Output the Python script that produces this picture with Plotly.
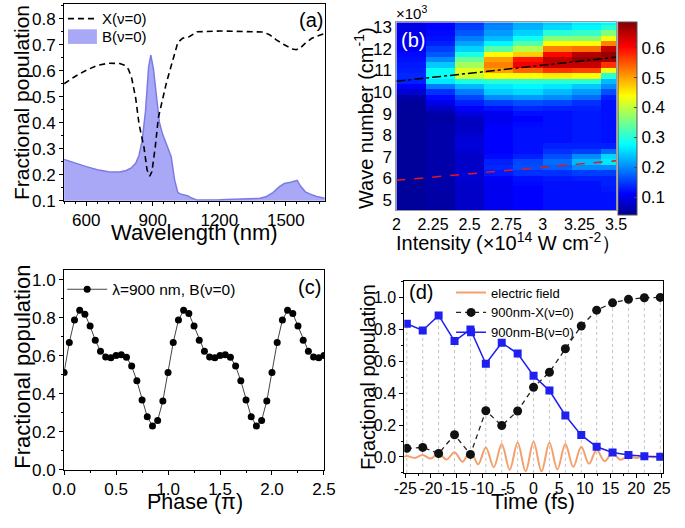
import plotly.graph_objects as go

W, H = 685, 528
FONT = "Arial, 'Liberation Sans', sans-serif"

# ---------------- panel (a) data ----------------
wl_X = [500, 551, 600, 650, 700, 751, 772, 790, 804, 823, 838, 860, 874, 886, 896, 911,
        925, 944, 962, 983, 998, 1013, 1034, 1064, 1100, 1209, 1311, 1399, 1428, 1457,
        1493, 1530, 1547, 1566, 1588, 1617, 1646, 1678]
pop_X = [0.550, 0.579, 0.602, 0.621, 0.629, 0.628, 0.621, 0.606, 0.575, 0.494, 0.394, 0.306,
         0.219, 0.194, 0.212, 0.306, 0.419, 0.494, 0.556, 0.619, 0.669, 0.709, 0.725, 0.731,
         0.750, 0.753, 0.751, 0.749, 0.738, 0.719, 0.700, 0.684, 0.681, 0.688, 0.706, 0.725,
         0.735, 0.744]

wl_B = [500, 551, 600, 650, 700, 751, 780, 801, 823, 838, 852, 867, 874, 881, 891, 903,
        918, 930, 944, 962, 983, 998, 1013, 1027, 1056, 1078, 1100, 1200, 1300, 1384,
        1413, 1442, 1471, 1493, 1522, 1551, 1566, 1588, 1610, 1639, 1678]
pop_B = [0.259, 0.244, 0.231, 0.219, 0.211, 0.210, 0.216, 0.225, 0.244, 0.275, 0.331, 0.444,
         0.544, 0.613, 0.660, 0.606, 0.490, 0.400, 0.356, 0.319, 0.269, 0.181, 0.131, 0.125,
         0.119, 0.109, 0.102, 0.103, 0.106, 0.109, 0.116, 0.131, 0.154, 0.166, 0.171, 0.178,
         0.156, 0.134, 0.125, 0.116, 0.109]

# ---------------- panel (b) data ----------------
intensity = [2.1, 2.3, 2.5, 2.7, 2.9, 3.1, 3.3, 3.5]
wavenumber = [4.5, 4.75, 5.0, 5.25, 5.5, 5.75, 6.0, 6.25, 6.5, 6.75, 7.0, 7.25, 7.5, 7.75,
              8.0, 8.25, 8.5, 8.75, 9.0, 9.25, 9.5, 9.75, 10.0, 10.25, 10.5, 10.75, 11.0,
              11.25, 11.5, 11.75, 12.0, 12.25, 12.5, 12.75, 13.0, 13.25]
col_I21 = [0.045, 0.045, 0.045, 0.045, 0.045, 0.045, 0.045, 0.045, 0.045, 0.045, 0.045, 0.045,
           0.045, 0.045, 0.045, 0.045, 0.045, 0.045, 0.045, 0.045, 0.047, 0.055, 0.08, 0.11,
           0.13, 0.135, 0.13, 0.125, 0.12, 0.115, 0.105, 0.1, 0.095, 0.095, 0.095, 0.09]
col_I23 = [0.05, 0.05, 0.052, 0.052, 0.055, 0.055, 0.055, 0.055, 0.055, 0.055, 0.055, 0.055,
           0.055, 0.055, 0.055, 0.055, 0.055, 0.05, 0.055, 0.075, 0.095, 0.115, 0.14, 0.19,
           0.26, 0.28, 0.28, 0.24, 0.2, 0.165, 0.15, 0.13, 0.12, 0.115, 0.11, 0.11]
col_I25 = [0.075, 0.075, 0.075, 0.075, 0.075, 0.078, 0.08, 0.08, 0.075, 0.075, 0.075, 0.08,
           0.085, 0.085, 0.08, 0.072, 0.07, 0.072, 0.09, 0.11, 0.13, 0.155, 0.19, 0.23,
           0.29, 0.41, 0.42, 0.38, 0.34, 0.29, 0.245, 0.215, 0.19, 0.165, 0.15, 0.145]
col_I27 = [0.1, 0.1, 0.1, 0.1, 0.1, 0.1, 0.105, 0.125, 0.135, 0.13, 0.115, 0.11, 0.11, 0.11,
           0.11, 0.11, 0.105, 0.1, 0.1, 0.12, 0.15, 0.2, 0.24, 0.26, 0.3, 0.44, 0.5, 0.52,
           0.5, 0.44, 0.33, 0.27, 0.23, 0.21, 0.195, 0.19]
col_I29 = [0.11, 0.11, 0.11, 0.11, 0.11, 0.115, 0.12, 0.14, 0.16, 0.155, 0.13, 0.12, 0.12,
           0.12, 0.12, 0.12, 0.115, 0.11, 0.12, 0.135, 0.16, 0.21, 0.25, 0.27, 0.3, 0.44,
           0.54, 0.61, 0.59, 0.47, 0.39, 0.33, 0.28, 0.245, 0.225, 0.22]
col_I31 = [0.12, 0.12, 0.12, 0.12, 0.12, 0.12, 0.125, 0.14, 0.17, 0.18, 0.16, 0.14, 0.13,
           0.12, 0.12, 0.12, 0.12, 0.12, 0.12, 0.13, 0.155, 0.2, 0.23, 0.26, 0.3, 0.45,
           0.57, 0.64, 0.645, 0.6, 0.52, 0.44, 0.36, 0.3, 0.25, 0.24]
col_I33 = [0.12, 0.12, 0.12, 0.12, 0.12, 0.12, 0.13, 0.15, 0.2, 0.23, 0.2, 0.15, 0.13, 0.125,
           0.125, 0.125, 0.125, 0.125, 0.125, 0.13, 0.14, 0.18, 0.21, 0.24, 0.3, 0.44, 0.56,
           0.64, 0.67, 0.65, 0.53, 0.44, 0.36, 0.31, 0.27, 0.26]
col_I35 = [0.12, 0.12, 0.12, 0.12, 0.125, 0.13, 0.13, 0.15, 0.2, 0.26, 0.25, 0.18, 0.13,
           0.12, 0.12, 0.12, 0.12, 0.12, 0.12, 0.12, 0.12, 0.13, 0.16, 0.2, 0.23, 0.3, 0.43,
           0.57, 0.66, 0.67, 0.64, 0.52, 0.43, 0.36, 0.3, 0.27]
fit_intensity = [2.0, 3.5]
fit_upper = [10.5, 11.62]
fit_lower = [5.9, 6.81]
cbar_ticks = [0.1, 0.2, 0.3, 0.4, 0.5, 0.6]
int_ticks = [2, 2.25, 2.5, 2.75, 3, 3.25, 3.5]
int_ticklabels = ["2", "2.25", "2.5", "2.75", "3", "3.25", "3.5"]
wn_ticks = [5, 6, 7, 8, 9, 10, 11, 12, 13]

# ---------------- panel (c) data ----------------
phase = [0.0, 0.05, 0.1, 0.15, 0.2, 0.25, 0.3, 0.35, 0.4, 0.45, 0.5, 0.55, 0.6, 0.65, 0.7,
         0.75, 0.8, 0.85, 0.9, 0.95, 1.0, 1.05, 1.1, 1.15, 1.2, 1.25, 1.3, 1.35, 1.4, 1.45,
         1.5, 1.55, 1.6, 1.65, 1.7, 1.75, 1.8, 1.85, 1.9, 1.95, 2.0, 2.05, 2.1, 2.15, 2.2,
         2.25, 2.3, 2.35, 2.4, 2.45, 2.5]
pop_phase = [0.511, 0.669, 0.787, 0.838, 0.818, 0.755, 0.681, 0.623, 0.593, 0.588, 0.600,
             0.605, 0.591, 0.545, 0.467, 0.366, 0.278, 0.230, 0.259, 0.361,
             0.511, 0.669, 0.787, 0.838, 0.821, 0.755, 0.681, 0.623, 0.593, 0.588, 0.600,
             0.605, 0.591, 0.545, 0.467, 0.366, 0.278, 0.230, 0.259, 0.361,
             0.511, 0.669, 0.787, 0.838, 0.821, 0.755, 0.681, 0.623, 0.593, 0.588, 0.600]

# ---------------- panel (d) data ----------------
time_fs = [-24.7, -21.6, -18.5, -15.4, -12.3, -9.3, -6.2, -3.1, 0.0, 3.1, 6.2, 9.3, 12.3,
           15.4, 18.5, 21.6, 24.7]
pop_X900 = [0.054, 0.060, 0.022, 0.139, 0.016, 0.290, 0.197, 0.288, 0.437, 0.531, 0.678,
            0.821, 0.920, 0.966, 0.988, 0.998, 1.000]
pop_B900 = [0.835, 0.793, 0.887, 0.726, 0.799, 0.584, 0.716, 0.648, 0.509, 0.416, 0.260,
            0.137, 0.064, 0.028, 0.012, 0.004, 0.002]
field_t = [-25.2, -24.7, -23.15, -21.6, -20.05, -18.5, -16.95, -15.4, -13.85, -12.3, -10.8,
           -9.3, -7.75, -6.2, -4.65, -3.1, -1.55, 0.0, 1.55, 3.1, 4.65, 6.2, 7.75, 9.3,
           10.8, 12.3, 13.85, 15.4, 16.95, 18.5, 20.05, 21.6, 23.15, 24.7, 25.3]
field_E = [0.0, 0.006, -0.006, 0.012, -0.01, 0.022, -0.016, 0.03, -0.03, 0.038, -0.046,
           0.06, -0.064, 0.081, -0.08, 0.091, -0.09, 0.095, -0.09, 0.089, -0.078, 0.081,
           -0.062, 0.064, -0.042, 0.044, -0.026, 0.025, -0.018, 0.008, -0.006, 0.004,
           -0.002, 0.0, 0.0]
time_ticks = [-25, -20, -15, -10, -5, 0, 5, 10, 15, 20, 25]
time_ticklabels = ["-25", "-20", "-15", "-10", "-5", "0", "5", "10", "15", "20", "25"]


def px(x):
    return x / W


def py(y):
    return 1 - y / H


fig = go.Figure()

# (a)
B_FILL = "rgba(168,168,246,1)"
B_LINE = "#7b7be6"
fig.add_trace(go.Scatter(x=wl_B, y=pop_B, mode="lines", name="B(ν=0)", fill="tozeroy",
                         fillcolor=B_FILL, line=dict(color=B_LINE, width=1.5),
                         xaxis="x", yaxis="y", showlegend=False))
fig.add_trace(go.Scatter(x=wl_X, y=pop_X, mode="lines", name="X(ν=0)",
                         line=dict(color="black", width=1.6, dash="6px,4px"),
                         xaxis="x", yaxis="y", showlegend=False))

# (b)
z = [[col_I21[i], col_I23[i], col_I25[i], col_I27[i], col_I29[i], col_I31[i], col_I33[i],
      col_I35[i]] for i in range(len(wavenumber))]
jet = [[0.0, "rgb(0,0,143)"], [0.111, "rgb(0,0,255)"], [0.365, "rgb(0,255,255)"],
       [0.619, "rgb(255,255,0)"], [0.873, "rgb(255,0,0)"], [1.0, "rgb(128,0,0)"]]
fig.add_trace(go.Heatmap(x=intensity, y=wavenumber, z=z, colorscale=jet, zmin=0.038,
                         zmax=0.685, xaxis="x2", yaxis="y2", showscale=True,
                         colorbar=dict(x=px(628.5), xanchor="left", thickness=19,
                                       thicknessmode="pixels", len=192.7, lenmode="pixels",
                                       y=py(19), yanchor="top", xpad=0, ypad=0,
                                       tickvals=cbar_ticks, ticks="inside", ticklen=3,
                                       tickfont=dict(size=17, color="black", family=FONT),
                                       outlinewidth=1, outlinecolor="#555")))
fig.add_trace(go.Scatter(x=fit_intensity, y=fit_upper, mode="lines", showlegend=False,
                         line=dict(color="black", width=1.5, dash="dashdot"),
                         xaxis="x2", yaxis="y2"))
fig.add_trace(go.Scatter(x=fit_intensity, y=fit_lower, mode="lines", showlegend=False,
                         line=dict(color="#e8161b", width=1.5, dash="dash"),
                         xaxis="x2", yaxis="y2"))

# (c)
fig.add_trace(go.Scatter(x=phase, y=pop_phase, mode="lines+markers",
                         name="λ=900 nm, B(ν=0)",
                         line=dict(color="#444", width=1),
                         marker=dict(color="black", size=7, symbol="circle"),
                         xaxis="x3", yaxis="y3", legend="legend2"))

# (d)
gx, gy = [], []
for t, a, b in zip(time_fs, pop_X900, pop_B900):
    gx += [t, t, None]
    gy += [-0.1, max(a, b), None]
fig.add_trace(go.Scatter(x=gx, y=gy, mode="lines", showlegend=False,
                         line=dict(color="#c4c4c4", width=1, dash="dot"),
                         xaxis="x4", yaxis="y4"))
fig.add_trace(go.Scatter(x=field_t, y=field_E, mode="lines", name="electric field",
                         line=dict(color="#f4a06c", width=2, shape="spline", smoothing=1.0),
                         xaxis="x4", yaxis="y4", legend="legend3"))
fig.add_trace(go.Scatter(x=time_fs, y=pop_X900, mode="lines+markers", name="900nm-X(ν=0)",
                         line=dict(color="#222", width=1.3, dash="5px,4px"),
                         marker=dict(color="#111", size=9, symbol="circle"),
                         xaxis="x4", yaxis="y4", legend="legend3"))
fig.add_trace(go.Scatter(x=time_fs, y=pop_B900, mode="lines+markers", name="900nm-B(ν=0)",
                         line=dict(color="#1f1ff0", width=1.5),
                         marker=dict(color="#1f1ff0", size=8, symbol="square"),
                         xaxis="x4", yaxis="y4", legend="legend3"))


def axis_style(size=17):
    return dict(showline=True, linecolor="black", linewidth=1, mirror=True,
                ticks="outside", ticklen=4, tickwidth=1, tickcolor="black",
                showgrid=False, zeroline=False, tickangle=0,
                tickfont=dict(size=size, color="black", family=FONT))


fig.update_layout(
    width=W, height=H, margin=dict(l=0, r=0, t=0, b=0),
    paper_bgcolor="white", plot_bgcolor="white",
    font=dict(family=FONT, color="black"),
    xaxis=dict(domain=[px(54), px(324)], range=[500, 1675], anchor="y",
               tickvals=[600, 900, 1200, 1500],
               minor=dict(dtick=50, tick0=500, ticklen=2, ticks="outside", tickcolor="black"),
               **axis_style(17)),
    yaxis=dict(domain=[py(202), py(0)], range=[0.1, 0.857], anchor="x",
               tickvals=[0.1, 0.2, 0.3, 0.4, 0.5, 0.6, 0.7, 0.8], tickformat=".1f",
               minor=dict(dtick=0.05, tick0=0.1, ticklen=2, ticks="outside", tickcolor="black"),
               **axis_style(17)),
    xaxis2=dict(domain=[px(398.3), px(626)], range=[2, 3.5], anchor="y2",
                tickvals=int_ticks, ticktext=int_ticklabels,
                showline=True, linecolor="#999", linewidth=1, mirror=True,
                ticks="", showgrid=False, zeroline=False,
                tickfont=dict(size=16, color="black", family=FONT)),
    yaxis2=dict(domain=[py(211.7), py(19)], range=[4.52, 13.23], anchor="x2",
                tickvals=wn_ticks,
                showline=True, linecolor="#999", linewidth=1, mirror=True,
                ticks="", showgrid=False, zeroline=False,
                tickfont=dict(size=17, color="black", family=FONT)),
    xaxis3=dict(domain=[px(54), px(323.3)], range=[0, 2.5], anchor="y3",
                tickvals=[0, 0.5, 1.0, 1.5, 2.0, 2.5], tickformat=".1f",
                minor=dict(dtick=0.25, ticklen=2, ticks="outside", tickcolor="black"),
                **axis_style(17)),
    yaxis3=dict(domain=[py(478.3), py(273.3)], range=[0, 1.05], anchor="x3",
                tickvals=[0, 0.2, 0.4, 0.6, 0.8, 1.0], tickformat=".1f",
                minor=dict(dtick=0.1, ticklen=2, ticks="outside", tickcolor="black"),
                **axis_style(17)),
    xaxis4=dict(domain=[px(406.5), px(675)], range=[-25.2, 25.3], anchor="y4",
                tickvals=time_ticks, ticktext=time_ticklabels, ticklabelstandoff=-3,
                minor=dict(dtick=2.5, ticklen=2, ticks="outside", tickcolor="black"),
                **axis_style(16)),
    yaxis4=dict(domain=[py(481.7), py(285)], range=[-0.1, 1.1], anchor="x4",
                tickvals=[0, 0.2, 0.4, 0.6, 0.8, 1.0], tickformat=".1f",
                minor=dict(dtick=0.1, ticklen=2, ticks="outside", tickcolor="black"),
                **axis_style(16)),
    legend2=dict(x=px(52), y=py(276), xanchor="left", yanchor="top",
                 bgcolor="rgba(0,0,0,0)",
                 font=dict(size=15.5, color="black", family=FONT), itemwidth=40),
    legend3=dict(x=px(455), y=py(281), xanchor="left", yanchor="top",
                 bgcolor="rgba(0,0,0,0)", tracegroupgap=0,
                 font=dict(size=13, color="black", family=FONT), itemwidth=30),
)


def ann(text, x, y, size, angle=0, color="black", xanchor="center", yanchor="middle"):
    fig.add_annotation(text=text, x=px(x), y=py(y), xref="paper", yref="paper",
                       showarrow=False, textangle=angle, xanchor=xanchor, yanchor=yanchor,
                       font=dict(size=size, color=color, family=FONT))


# legend keys of panel (a), drawn in paper coordinates
fig.add_shape(type="line", xref="paper", yref="paper", x0=px(58), x1=px(88), y0=py(15),
              y1=py(15), line=dict(color="black", width=1.6, dash="6px,4px"))
fig.add_shape(type="rect", xref="paper", yref="paper", x0=px(58), x1=px(88), y0=py(26),
              y1=py(41), fillcolor=B_FILL, line=dict(width=0))
ann("X(ν=0)", 91, 15, 15, xanchor="left")
ann("B(ν=0)", 91, 33, 15, xanchor="left")

# axis titles
ann("Wavelength (nm)", 189.5, 235, 22)
ann("Fractional population", 10, 101, 21, angle=-90)
ann("Intensity (×10<sup>14</sup> W cm<sup>-2</sup>）", 515, 244, 20)
ann("Wave number (cm<sup>-1</sup>)", 365, 117, 20, angle=-90)
ann("×10<sup>3</sup>", 414, 9, 15)
ann("Phase (π)", 190, 512, 21.5)
ann("Fractional population", 10, 373, 22, angle=-90)
ann("Time (fs)", 540, 512, 21.5)
ann("Fractional population", 369, 383, 20, angle=-90)
# panel labels
ann("(a)", 310, 16, 20)
ann("(b)", 416, 37, 20, color="white")
ann("(c)", 308, 291, 20)
ann("(d)", 424, 296, 20)

fig.write_html("out.html", config={"displayModeBar": False},
               post_script="document.body.style.margin='0px';")
